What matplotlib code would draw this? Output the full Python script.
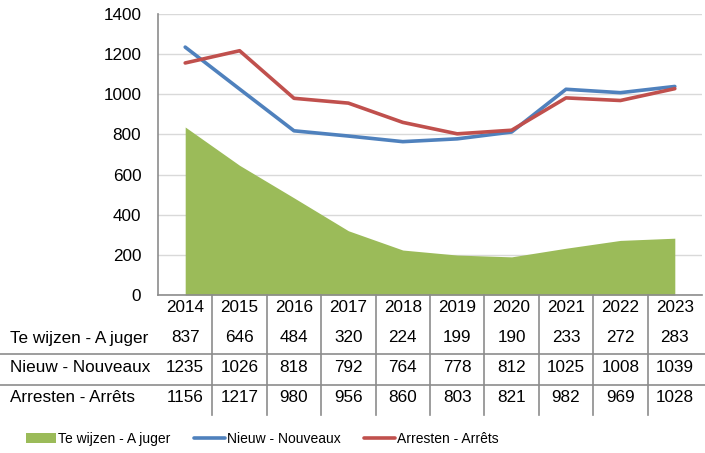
import matplotlib.pyplot as plt
from matplotlib.lines import Line2D
from matplotlib.patches import Patch
from matplotlib.transforms import blended_transform_factory

plt.rcParams['font.family'] = ['Liberation Sans', 'DejaVu Sans']

years = ['2014', '2015', '2016', '2017', '2018', '2019', '2020', '2021', '2022', '2023']
te_wijzen = [837, 646, 484, 320, 224, 199, 190, 233, 272, 283]
nieuw = [1235, 1026, 818, 792, 764, 778, 812, 1025, 1008, 1039]
arresten = [1156, 1217, 980, 956, 860, 803, 821, 982, 969, 1028]
row_labels = ['Te wijzen - A juger', 'Nieuw - Nouveaux', 'Arresten - Arrêts']

green = '#9BBB59'
blue = '#4F81BD'
red = '#C0504D'
grid_c = '#D9D9D9'
border_c = '#8C8C8C'
fs = 12.3

W, H = 705, 453
fig = plt.figure(figsize=(W / 100, H / 100), dpi=100)

# plot area in pixels: x 158..702, y 14..295
ax = fig.add_axes([158 / W, 1 - 295 / H, (702 - 158) / W, (295 - 14) / H])
x = list(range(len(years)))
ax.fill_between(x, te_wijzen, 0, color=green, linewidth=0, zorder=2)
ax.plot(x, nieuw, color=blue, linewidth=2.6, solid_capstyle='round', zorder=3)
ax.plot(x, arresten, color=red, linewidth=2.6, solid_capstyle='round', zorder=4)

ax.set_xlim(-0.5, len(years) - 0.5)
ax.set_ylim(0, 1400)
ax.set_yticks(range(0, 1401, 200))
ax.set_xticks([])
ax.grid(axis='y', color=grid_c, linewidth=1, zorder=0)
ax.tick_params(axis='y', length=0, pad=12, labelsize=fs, labelcolor='#000000')
for s in ['top', 'right']:
    ax.spines[s].set_visible(False)
ax.spines['left'].set_color(border_c)
ax.spines['bottom'].set_color(border_c)
ax.spines['left'].set_linewidth(1.2)
ax.spines['bottom'].set_linewidth(1.2)

# data table under the plot: x in category units, y in figure pixels from top
tr = blended_transform_factory(ax.transData, fig.transFigure)


def fy(py):
    return 1 - py / H


px_per_cat = (702 - 158) / len(years)
x_left = -0.5 - 158 / px_per_cat
x_right = -0.5 + (705 - 158) / px_per_cat

row_y = [307, 338, 368, 398]
for i, yr in enumerate(years):
    fig.text(i, fy(row_y[0]), yr, transform=tr, ha='center', va='center', fontsize=fs)
for r, vals in enumerate([te_wijzen, nieuw, arresten]):
    fig.text(x_left + 10 / px_per_cat, fy(row_y[r + 1]), row_labels[r], transform=tr,
             ha='left', va='center', fontsize=fs)
    for i, v in enumerate(vals):
        fig.text(i, fy(row_y[r + 1]), str(v), transform=tr, ha='center', va='center', fontsize=fs)

for py in [354, 385]:
    fig.add_artist(Line2D([x_left, x_right], [fy(py), fy(py)], transform=tr,
                          color=border_c, linewidth=1.2))
for i in range(1, len(years)):
    fig.add_artist(Line2D([i - 0.5, i - 0.5], [fy(295), fy(415)], transform=tr,
                          color=border_c, linewidth=1.2))

handles = [Patch(facecolor=green, edgecolor='none'),
           Line2D([], [], color=blue, linewidth=2.6, solid_capstyle='round'),
           Line2D([], [], color=red, linewidth=2.6, solid_capstyle='round')]
fig.legend(handles, row_labels, loc='center', bbox_to_anchor=(262 / W, 1 - 439 / H), ncol=3,
           frameon=False, fontsize=10, handlelength=2.2, handletextpad=0.15,
           columnspacing=1.7, borderpad=0)

fig.savefig('out.png', dpi=100)
